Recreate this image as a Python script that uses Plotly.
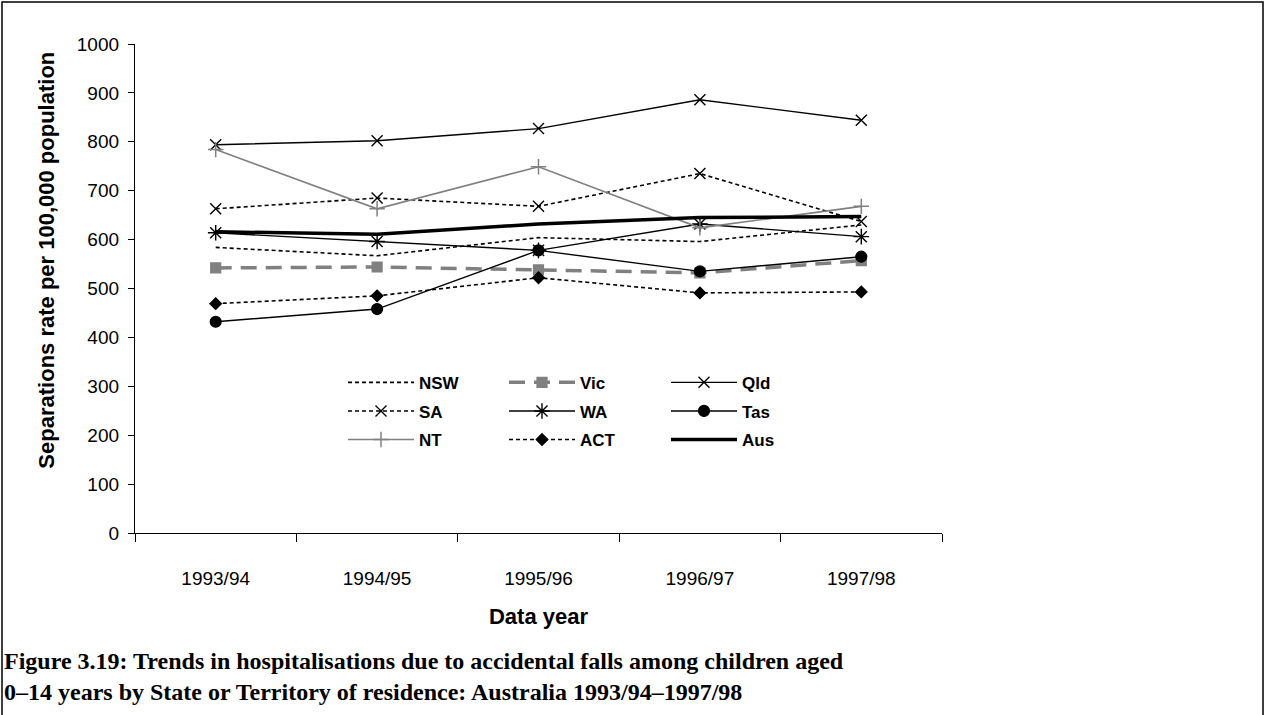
import plotly.graph_objects as go

# data years and rates per 100,000
years = ["1993/94", "1994/95", "1995/96", "1996/97", "1997/98"]
nsw = [584, 567, 604, 596, 630]
vic = [542, 544, 538, 532, 557]
qld = [794, 802, 827, 886, 844]
sa = [663, 685, 668, 735, 637]
wa = [614, 596, 578, 632, 606]
tas = [432, 458, 578, 535, 565]
nt = [784, 663, 749, 624, 668]
act = [469, 485, 522, 491, 493]
aus = [616, 611, 632, 645, 647]

BLACK = "#000000"
GREY = "#808080"
DOTS = "4px,3px"

fig = go.Figure()

# legend column for each series (legend -> col 1, legend2 -> col 2, legend3 -> col 3)
def add(name, vals, leg, color, width, dash="solid", symbol=None, msize=10, mline=1.2):
    mode = "lines+markers" if symbol else "lines"
    marker = dict(symbol=symbol, size=msize, color=color,
                  line=dict(color=color, width=mline)) if symbol else None
    fig.add_trace(go.Scatter(x=years, y=vals, name=name, mode=mode, legend=leg,
                             legendgroup=name,
                             line=dict(color=color, width=width, dash=dash),
                             marker=marker))

add("NSW", nsw, "legend", BLACK, 1.6, DOTS)
add("Vic", vic, "legend2", GREY, 3.5, "16px,9px", "square", 10)
add("Qld", qld, "legend3", BLACK, 1.4, "solid", "x-thin-open", 11, 1.4)
add("SA", sa, "legend", BLACK, 1.6, DOTS, "x-thin-open", 11, 1.4)
add("WA", wa, "legend2", BLACK, 1.4, "solid", "asterisk-open", 13, 1.4)
add("Tas", tas, "legend3", BLACK, 1.4, "solid", "circle", 11)
add("NT", nt, "legend", GREY, 1.6, "solid", "cross-thin-open", 11, 1.5)
add("ACT", act, "legend2", BLACK, 1.6, DOTS, "diamond", 9)
add("Aus", aus, "legend3", BLACK, 3.5)

leg_y = 0.344
def legend_at(px):
    return dict(x=(px - 135) / 807, y=leg_y, xanchor="left", yanchor="top",
                itemwidth=66, tracegroupgap=3.5,
                font=dict(family="Liberation Sans, Arial", size=17, weight="bold"),
                bgcolor="rgba(0,0,0,0)", itemclick=False, itemdoubleclick=False)

fig.update_layout(
    width=1266, height=715,
    margin=dict(l=135, r=324, t=44, b=182),
    paper_bgcolor="white", plot_bgcolor="white",
    font=dict(family="Liberation Sans, Arial", size=19, color="black"),
    showlegend=True,
    legend=legend_at(343),
    legend2=legend_at(504),
    legend3=legend_at(666),
)

fig.update_xaxes(
    type="category", range=[-0.5, 4.5],
    showline=True, linecolor="black", linewidth=1.3,
    ticks="outside", tickson="boundaries", ticklen=8, tickcolor="black",
    showgrid=False, zeroline=False,
    ticklabelstandoff=28,
    title=dict(text="<b>Data year</b>", font=dict(size=22), standoff=20),
)
fig.update_yaxes(
    range=[0, 1000], dtick=100,
    showline=True, linecolor="black", linewidth=1.3,
    ticks="outside", ticklen=6, tickcolor="black",
    showgrid=False, zeroline=False,
    ticklabelstandoff=5,
)

fig.add_annotation(
    xref="paper", yref="paper", x=(47 - 135) / 807, y=0.557,
    xanchor="center", yanchor="middle", textangle=-90, showarrow=False,
    text="<b>Separations rate per 100,000 population</b>",
    font=dict(family="Liberation Sans, Arial", size=22, color="black"),
)

# outer frame around the figure
fig.add_shape(type="rect", xref="paper", yref="paper",
              x0=-133/807, x1=1128/807, y0=-0.5, y1=(533 - 2) / 489,
              line=dict(color="black", width=1.5), layer="below")

fig.add_annotation(
    xref="paper", yref="paper", x=-133/807, y=(533 - 646) / 489,
    xanchor="left", yanchor="top", align="left", showarrow=False,
    text="<b>Figure 3.19: Trends in hospitalisations due to accidental falls among children aged<br>"
         "0–14 years by State or Territory of residence: Australia 1993/94–1997/98</b>",
    font=dict(family="Liberation Serif, Times New Roman, serif", size=24, color="black"),
)

fig.write_html("out.html", config={"displayModeBar": False},
               post_script="document.body.style.margin='0';")
